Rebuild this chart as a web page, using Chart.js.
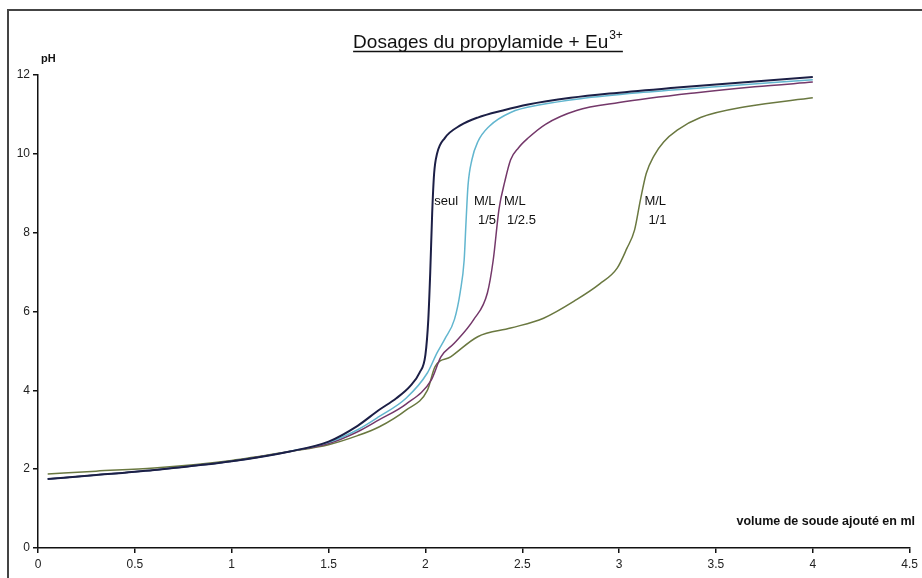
<!DOCTYPE html>
<html>
<head>
<meta charset="utf-8">
<script src="https://cdn.jsdelivr.net/npm/chart.js@4"></script>
<style>
  html, body { margin: 0; padding: 0; background: #fff; }
  #wrap { position: relative; width: 922px; height: 578px; }
  #frame { position: absolute; left: 7px; top: 9px; right: -4px; bottom: -4px; border-left: 2px solid #444; border-top: 2px solid #444; pointer-events: none; }
</style>
</head>
<body>
<div id="wrap">
  <canvas id="chart" width="922" height="578"></canvas>
  <div id="frame"></div>
</div>
<script>
// Dosages du propylamide + Eu3+ : pH en fonction du volume de soude

const seulX = [0.05, 0.3, 0.6, 1.0, 1.3, 1.5, 1.65, 1.76, 1.85, 1.92, 1.97, 2.0, 2.015, 2.025, 2.035, 2.045, 2.06, 2.1, 2.18, 2.27, 2.4, 2.53, 2.75, 2.95, 3.3, 3.6, 4.0];
const seulY = [1.75, 1.85, 1.98, 2.2, 2.45, 2.7, 3.1, 3.5, 3.8, 4.1, 4.45, 4.9, 5.8, 7.0, 8.5, 9.5, 10.0, 10.4, 10.72, 10.92, 11.1, 11.25, 11.42, 11.53, 11.68, 11.8, 11.95];

const ml5X = [0.05, 0.3, 0.6, 1.0, 1.3, 1.5, 1.65, 1.76, 1.9, 2.01, 2.06, 2.1, 2.15, 2.18, 2.2, 2.21, 2.22, 2.24, 2.27, 2.33, 2.44, 2.6, 2.8, 3.1, 3.5, 4.0];
const ml5Y = [1.75, 1.85, 1.98, 2.2, 2.45, 2.68, 3.0, 3.33, 3.8, 4.44, 4.95, 5.3, 5.8, 6.5, 7.3, 8.3, 9.2, 9.85, 10.3, 10.7, 11.05, 11.25, 11.4, 11.55, 11.7, 11.88];

const ml25X = [0.05, 0.3, 0.6, 1.0, 1.3, 1.5, 1.65, 1.76, 1.9, 2.03, 2.08, 2.15, 2.25, 2.32, 2.35, 2.38, 2.41, 2.44, 2.48, 2.53, 2.62, 2.78, 3.0, 3.4, 3.7, 4.0];
const ml25Y = [1.75, 1.85, 1.98, 2.2, 2.45, 2.65, 2.95, 3.25, 3.65, 4.26, 4.85, 5.2, 5.8, 6.47, 7.3, 8.6, 9.3, 9.85, 10.15, 10.4, 10.75, 11.1, 11.3, 11.55, 11.7, 11.82];

const ml1X = [0.05, 0.3, 0.6, 1.0, 1.3, 1.5, 1.65, 1.76, 1.9, 2.01, 2.05, 2.13, 2.27, 2.44, 2.61, 2.78, 2.9, 2.99, 3.04, 3.08, 3.11, 3.14, 3.18, 3.23, 3.3, 3.42, 3.66, 4.0];
const ml1Y = [1.88, 1.95, 2.03, 2.22, 2.45, 2.62, 2.85, 3.07, 3.5, 4.0, 4.6, 4.85, 5.36, 5.58, 5.83, 6.3, 6.7, 7.1, 7.6, 8.07, 8.83, 9.5, 9.95, 10.3, 10.6, 10.92, 11.2, 11.42];

const seriesNames = ['seul', 'M/L 1/5', 'M/L 1/2.5', 'M/L 1/1'];
const xTicks = [0, 0.5, 1, 1.5, 2, 2.5, 3, 3.5, 4, 4.5];
const yTicks = [0, 2, 4, 6, 8, 10, 12];

const FONT = 'Liberation Sans, Arial, sans-serif';

const toPoints = (xs, ys) => xs.map((x, i) => ({ x: x, y: ys[i] }));

// étiquettes posées à côté des courbes (coordonnées en unités des axes)
const curveLabels = [
  { lines: ['seul'], x: 2.03, y: 8.8 },
  { lines: ['M/L', '1/5'], x: 2.235, y: 8.8 },
  { lines: ['M/L', '1/2.5'], x: 2.39, y: 8.8 },
  { lines: ['M/L', '1/1'], x: 3.115, y: 8.8 }
];

const decorations = {
  id: 'decorations',
  afterDraw(chart) {
    const { ctx, scales } = chart;
    ctx.save();
    ctx.fillStyle = '#111';
    ctx.strokeStyle = '#111';

    // titre souligné avec exposant
    const main = 'Dosages du propylamide + Eu';
    ctx.font = '12px ' + FONT;
    const supW = ctx.measureText('3+').width;
    ctx.font = '19px ' + FONT;
    const mainW = ctx.measureText(main).width;
    const total = mainW + supW + 1;
    const tx = 488 - total / 2;
    const ty = 48;
    ctx.textAlign = 'left';
    ctx.textBaseline = 'alphabetic';
    ctx.fillText(main, tx, ty);
    ctx.font = '12px ' + FONT;
    ctx.fillText('3+', tx + mainW + 1, ty - 9);
    ctx.lineWidth = 1.3;
    ctx.beginPath();
    ctx.moveTo(tx, ty + 3.5);
    ctx.lineTo(tx + total, ty + 3.5);
    ctx.stroke();

    // titres des axes
    ctx.font = 'bold 11px ' + FONT;
    ctx.textAlign = 'left';
    ctx.fillText('pH', 41, 62);
    ctx.font = 'bold 12.5px ' + FONT;
    ctx.textAlign = 'right';
    ctx.fillText('volume de soude ajouté en ml', 915, 525);

    // étiquettes des courbes
    ctx.font = '13px ' + FONT;
    ctx.textAlign = 'left';
    ctx.textBaseline = 'middle';
    curveLabels.forEach(lbl => {
      const px = scales.x.getPixelForValue(lbl.x) + 3;
      const py = scales.y.getPixelForValue(lbl.y);
      lbl.lines.forEach((line, i) => {
        const off = i === 1 ? (line.length > 3 ? 3 : 4) : 0;
        ctx.fillText(line, px + off, py + i * 19);
      });
    });
    ctx.restore();
  }
};

const data = {
  datasets: [
    { label: seriesNames[0], data: toPoints(seulX, seulY), borderColor: '#1c1f46', borderWidth: 2 },
    { label: seriesNames[1], data: toPoints(ml5X, ml5Y), borderColor: '#62b6cf', borderWidth: 1.5 },
    { label: seriesNames[2], data: toPoints(ml25X, ml25Y), borderColor: '#74386a', borderWidth: 1.5 },
    { label: seriesNames[3], data: toPoints(ml1X, ml1Y), borderColor: '#6a7840', borderWidth: 1.5 }
  ].map(ds => Object.assign(ds, {
    showLine: true,
    pointRadius: 0,
    fill: false,
    cubicInterpolationMode: 'monotone'
  }))
};

const config = {
  type: 'scatter',
  data: data,
  options: {
    responsive: false,
    animation: false,
    events: [],
    layout: { padding: { left: 0, right: 8, top: 75, bottom: 0 } },
    plugins: {
      legend: { display: false },
      title: { display: false },
      tooltip: { enabled: false }
    },
    scales: {
      x: {
        type: 'linear',
        min: 0,
        max: 4.5,
        afterBuildTicks: scale => { scale.ticks = xTicks.map(v => ({ value: v })); },
        afterFit: scale => { scale.height = 30; },
        border: { display: true, color: '#111', width: 1.5 },
        grid: { display: true, drawOnChartArea: false, drawTicks: true, tickLength: 5, color: '#111', lineWidth: 1.5 },
        ticks: { color: '#222', font: { family: FONT, size: 12 }, padding: 4, maxRotation: 0, autoSkip: false, callback: v => String(v) }
      },
      y: {
        type: 'linear',
        min: 0,
        max: 12,
        afterBuildTicks: scale => { scale.ticks = yTicks.map(v => ({ value: v })); },
        afterFit: scale => { scale.width = 38; },
        border: { display: true, color: '#111', width: 1.5 },
        grid: { display: true, drawOnChartArea: false, drawTicks: true, tickLength: 5, color: '#111', lineWidth: 1.5 },
        ticks: { color: '#222', font: { family: FONT, size: 12 }, padding: 3 }
      }
    }
  },
  plugins: [decorations]
};

new Chart(document.getElementById('chart'), config);
</script>
</body>
</html>
